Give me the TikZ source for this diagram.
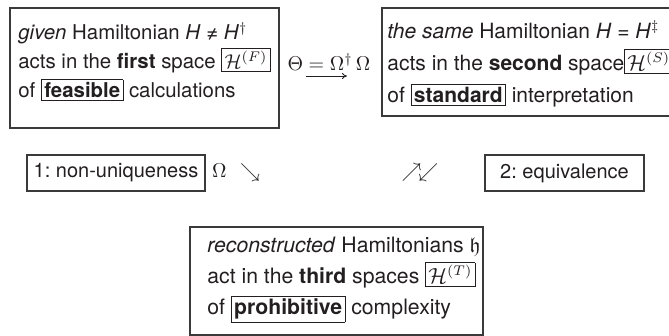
\documentclass[tikz,border=0pt]{standalone}
\usepackage{amsmath,amssymb}
\usepackage{fontspec}
\setmainfont{TeX Gyre Heros}
\definecolor{hamInk}{HTML}{231F20}
\definecolor{hamFrame}{HTML}{3A3A3A}
\usetikzlibrary{
	arrows.meta,
	positioning
}
\setlength{\fboxsep}{1.2pt}
\setlength{\fboxrule}{0.4pt}
\frenchspacing

\begin{document}
\begin{tikzpicture}[x=0.5pt,y=-0.5pt,
	marco/.style={draw=hamFrame, line width=0.6pt},
	texto/.style={anchor=west, align=left, text=hamInk, inner sep=0pt},
	caja/.style={draw=hamFrame, line width=0.6pt, text=hamInk, minimum height=18pt}
	]
	\useasboundingbox (0,0) rectangle (669,336);
	\clip (0,0) rectangle (669,336);
	
	% Primer espacio
	\draw[marco] (10,8) rectangle (279,128);
	\node[texto, font=\fontsize{10.2}{14.5}\selectfont] (espF) at (18,62)
		{\textit{given} Hamiltonian \textit{H} ≠ \textit{H}$^{\dagger}$\\
		 acts in the \textbf{first} space \fbox{$\mathcal{H}^{(F)}$}\\
		 of \fbox{\textbf{feasible}} calculations};
	
	% Segundo espacio
	\draw[marco] (382,8) rectangle (680,116);
	\node[texto, font=\fontsize{10.5}{16}\selectfont] (espS) at (387,64)
		{\textit{the same} Hamiltonian \textit{H} = \textit{H}$^{\ddagger}$\\
		 acts in the \textbf{second} space\fbox{$\mathcal{H}^{(S)}$}\\
		 of \fbox{\textbf{standard}} interpretation};
	
	% Metrica
	\node[text=hamInk, inner sep=0pt, font=\fontsize{10.3}{12}\selectfont] (metrica) at (329,62)
		{$\Theta = \Omega^{\dagger}\,\Omega$};
	\coordinate (flechaA) at (306,76);
	\coordinate (flechaB) at (347,76);
	\draw[-{To[length=2.5pt,width=3pt]}, hamInk, line width=0.4pt] (flechaA) -- (flechaB);
	
	% Fila central
	\node[caja, minimum width=89pt] (unicidad) at (116,173) {1: non-uniqueness};
	\node[text=hamInk, inner sep=0pt] (omega) at (236,173) {$\Omega\hspace{4pt}\searrow$};
	\node[text=hamInk, inner sep=0pt] (vaiven) at (420,173) {$\nearrow\!\swarrow$};
	\node[caja, minimum width=79.5pt] (equiv) at (564.5,173) {2: equivalence};
	
	% Tercer espacio
	\draw[marco] (190,227) rectangle (483,335);
	\node[texto, font=\fontsize{10.6}{15.5}\selectfont] (espT) at (207,280)
		{\textit{reconstructed} Hamiltonians $\mathfrak{h}$\\
		 act in the \textbf{third} spaces \fbox{$\mathcal{H}^{(T)}$}\\
		 of \fbox{\textbf{prohibitive}} complexity};
	
\end{tikzpicture}
\end{document}
